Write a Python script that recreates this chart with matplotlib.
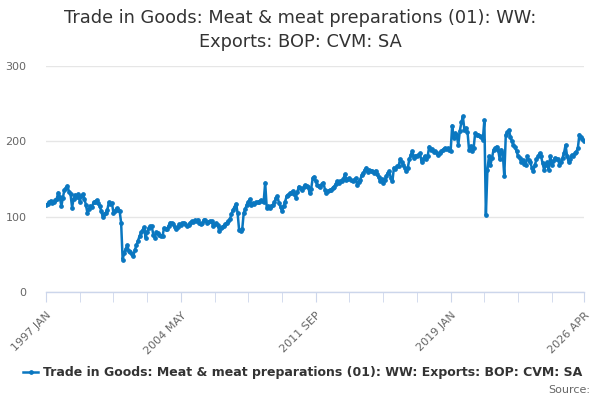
import numpy as np
import matplotlib.pyplot as plt

# =========================================================
# DATA: monthly index, 1997 JAN .. 2026 APR
# =========================================================
y1997 = [116, 117, 119, 121, 118, 119, 122, 124, 132, 126, 114, 125]
y1998 = [136, 138, 141, 133, 130, 112, 124, 129, 126, 130, 120, 127]
y1999 = [130, 124, 116, 105, 110, 114, 113, 119, 120, 122, 118, 114]
y2000 = [108, 100, 103, 105, 109, 119, 117, 118, 105, 108, 111, 109]
y2001 = [108, 92, 43, 52, 57, 62, 55, 53, 50, 48, 56, 62]
y2002 = [68, 74, 79, 82, 86, 72, 80, 85, 87, 87, 76, 72]
y2003 = [79, 78, 76, 75, 74, 85, 84, 83, 88, 92, 91, 90]
y2004 = [86, 83, 86, 90, 89, 91, 92, 90, 87, 89, 92, 94]
y2005 = [93, 95, 94, 96, 92, 90, 91, 96, 95, 92, 93, 94]
y2006 = [94, 87, 90, 91, 89, 81, 85, 86, 88, 90, 92, 94]
y2007 = [97, 103, 109, 113, 117, 105, 82, 81, 83, 105, 110, 116]
y2008 = [120, 123, 116, 118, 117, 119, 119, 120, 122, 121, 120, 145]
y2009 = [112, 114, 112, 114, 115, 119, 125, 127, 118, 113, 107, 114]
y2010 = [120, 127, 129, 131, 132, 134, 130, 125, 133, 140, 138, 136]
y2011 = [139, 142, 141, 140, 131, 137, 151, 153, 147, 142, 141, 140]
y2012 = [143, 145, 136, 131, 134, 135, 136, 138, 140, 143, 147, 145]
y2013 = [147, 148, 150, 156, 149, 150, 151, 149, 147, 149, 151, 142]
y2014 = [146, 149, 155, 158, 162, 165, 159, 162, 161, 160, 158, 161]
y2015 = [156, 152, 147, 150, 145, 149, 154, 158, 160, 151, 147, 165]
y2016 = [163, 167, 167, 176, 172, 169, 165, 161, 164, 176, 182, 187]
y2017 = [178, 181, 180, 182, 184, 173, 176, 180, 176, 180, 193, 189]
y2018 = [190, 186, 187, 184, 182, 185, 187, 189, 191, 190, 191, 189]
y2019 = [187, 221, 204, 211, 208, 195, 214, 225, 233, 215, 218, 213]
y2020 = [189, 194, 187, 191, 211, 208, 209, 207, 206, 202, 228, 102]
y2021 = [162, 180, 169, 178, 189, 191, 193, 189, 176, 189, 184, 154]
y2022 = [209, 212, 215, 206, 200, 195, 192, 187, 180, 178, 173, 175]
y2023 = [170, 169, 180, 175, 172, 165, 161, 169, 176, 180, 184, 180]
y2024 = [171, 162, 169, 172, 162, 180, 169, 174, 178, 176, 176, 169]
y2025 = [172, 178, 185, 195, 180, 173, 176, 182, 181, 184, 186, 191]
y2026 = [209, 206, 203, 200]

values = (y1997 + y1998 + y1999 + y2000 + y2001 + y2002 + y2003 + y2004
          + y2005 + y2006 + y2007 + y2008 + y2009 + y2010 + y2011 + y2012
          + y2013 + y2014 + y2015 + y2016 + y2017 + y2018 + y2019 + y2020
          + y2021 + y2022 + y2023 + y2024 + y2025 + y2026)

tick_labels = ["1997 JAN", "2004 MAY", "2011 SEP", "2019 JAN", "2026 APR"]
series_name = "Trade in Goods: Meat & meat preparations (01): WW: Exports: BOP: CVM: SA"
title = "Trade in Goods: Meat & meat preparations (01): WW:\nExports: BOP: CVM: SA"

months = ["JAN", "FEB", "MAR", "APR", "MAY", "JUN",
          "JUL", "AUG", "SEP", "OCT", "NOV", "DEC"]


def month_index(label):
    yr, mon = label.split()
    return (int(yr) - 1997) * 12 + months.index(mon)


# =========================================================
# PLOT
# =========================================================
blue = "#0a77c0"
grey_text = "#666666"
axis_col = "#ccd6eb"

fig = plt.figure(figsize=(6, 4), dpi=100)
ax = fig.add_axes([0.0767, 0.27, 0.8966, 0.565])

x = np.arange(len(values))
line, = ax.plot(x, values, color=blue, lw=1.8, marker="o", ms=2.4,
                label=series_name)

ax.set_xlim(0, len(values) - 1)
ax.set_ylim(0, 300)
ax.set_yticks([0, 100, 200, 300])
ax.grid(axis="y", color="#e6e6e6", lw=1)
ax.set_axisbelow(True)

for s in ["top", "right", "left"]:
    ax.spines[s].set_visible(False)
ax.spines["bottom"].set_color(axis_col)
ax.spines["bottom"].set_linewidth(1)

major = [month_index(t) for t in tick_labels]
minor = list(range(0, len(values), 22)) + [len(values) - 1]
ax.set_xticks(major)
ax.set_xticklabels(tick_labels, rotation=45, ha="right",
                   rotation_mode="anchor", fontsize=8, color=grey_text)
ax.set_xticks(minor, minor=True)
ax.tick_params(axis="x", which="both", length=7, color=axis_col, pad=6)
ax.tick_params(axis="y", length=0, pad=14, labelsize=8, labelcolor=grey_text)

fig.text(0.5, 0.925, title, ha="center", va="center", fontsize=12.8,
         color="#333333", linespacing=1.4)

fig.legend(handles=[line], loc="center", bbox_to_anchor=(0.505, 0.068),
           frameon=False, handlelength=1.2, handletextpad=0.4,
           prop={"size": 9, "weight": "bold"}, labelcolor="#333333")

fig.text(0.983, 0.026, "Source:", ha="right", va="center", fontsize=8,
         color=grey_text)

fig.savefig("out.png", dpi=100)
